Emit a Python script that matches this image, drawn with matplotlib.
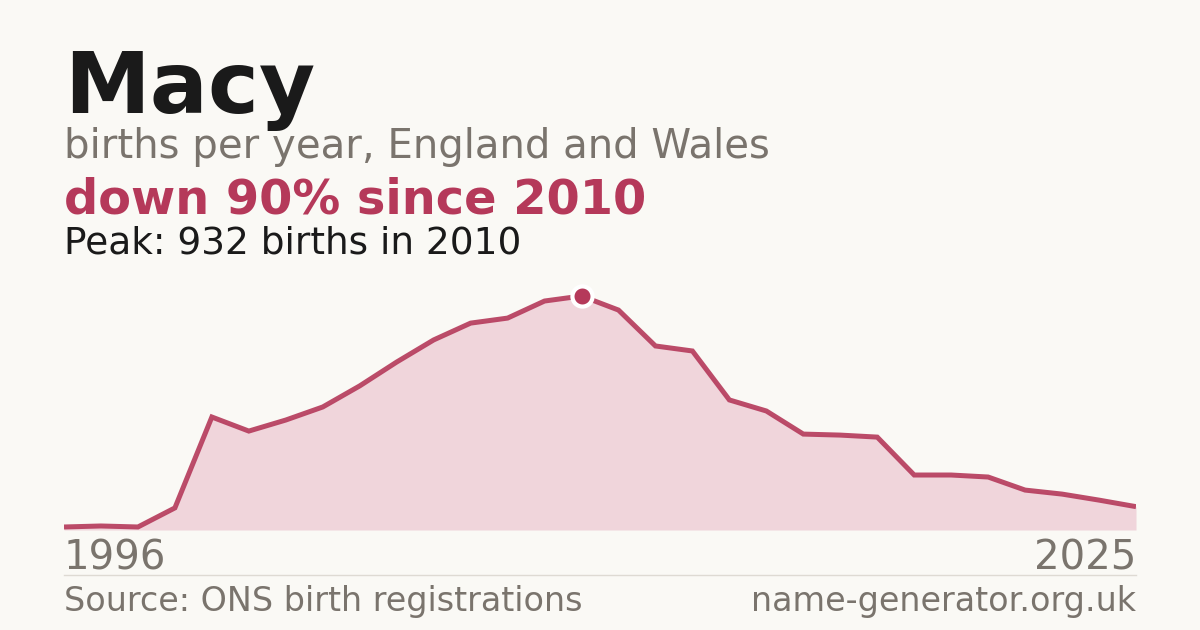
import numpy as np
import matplotlib.pyplot as plt

years = list(range(1996, 2026))
births = [12, 16, 12, 88, 450, 394, 438, 490, 574, 669, 757, 824, 844, 912, 932,
          876, 733, 713, 518, 474, 382, 378, 370, 219, 219, 211, 159, 143, 119, 93]

name = "Macy"
subtitle = "births per year, England and Wales"
headline = "down 90% since 2010"
peak_note = "Peak: 932 births in 2010"
source = "Source: ONS birth registrations"
site = "name-generator.org.uk"

bg = "#faf9f5"
red = "#b5395a"
fill = "#f0d5db"
grey = "#7a746d"

W, H = 1200, 630
fig = plt.figure(figsize=(W / 100, H / 100), dpi=100, facecolor=bg)

# plot area in pixels: x 64..1136, zero line at y=530, top of axes at y=280
left, right, base, top = 64, 1136, 530, 280
ax = fig.add_axes([left / W, 1 - base / H, (right - left) / W, (base - top) / H])
ax.set_facecolor(bg)
ax.patch.set_alpha(0)

peak_i = int(np.argmax(births))
ymax = births[peak_i] * (base - top) / (base - 296)
ax.set_xlim(years[0], years[-1])
ax.set_ylim(0, ymax)
ax.fill_between(years, births, 0, color=fill, lw=0, zorder=1)
ax.plot(years, births, color=red, lw=3.6, alpha=0.9, solid_joinstyle="miter",
        solid_capstyle="butt", zorder=2)
ax.plot(years[peak_i], births[peak_i], marker="o", ms=14.5, color=red,
        mec="white", mew=3, zorder=3, clip_on=False)
ax.axis("off")

fig.text(64 / W, 1 - 113 / H, name, fontsize=62, fontweight="bold", color="#1a1a1a")
fig.text(64 / W, 1 - 158 / H, subtitle, fontsize=29, color=grey)
fig.text(64 / W, 1 - 214 / H, headline, fontsize=34.5, fontweight="bold", color=red)
fig.text(64 / W, 1 - 253 / H, peak_note, fontsize=27, color="#1a1a1a")

fig.text(64 / W, 1 - 570 / H, str(years[0]), fontsize=29, color=grey)
fig.text(1136 / W, 1 - 570 / H, str(years[-1]), fontsize=29, color=grey, ha="right")

fig.add_artist(plt.Line2D([64 / W, 1136 / W], [1 - 574.5 / H, 1 - 574.5 / H],
                          color="#dedad3", lw=1))
fig.text(64 / W, 1 - 611 / H, source, fontsize=24, color=grey)
fig.text(1136 / W, 1 - 611 / H, site, fontsize=24, color=grey, ha="right")

fig.savefig("out.png", dpi=100, facecolor=bg)
